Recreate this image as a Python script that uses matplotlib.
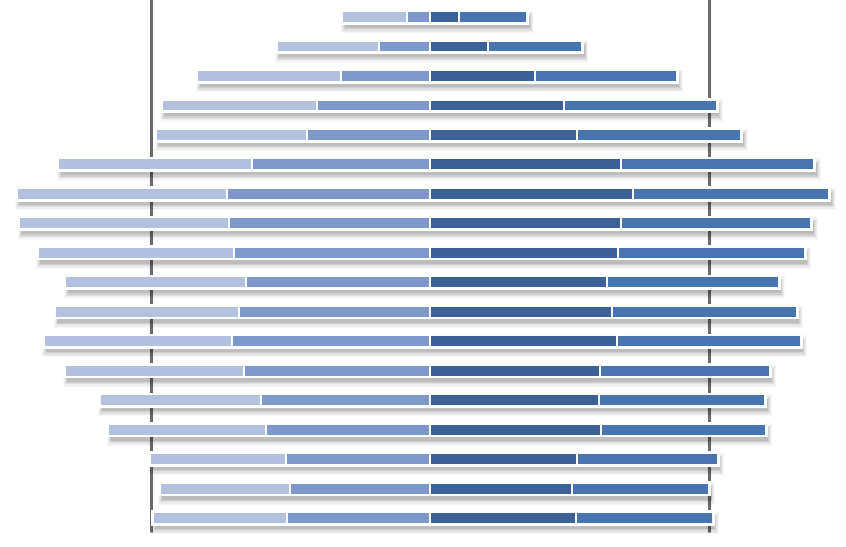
import numpy as np
import matplotlib
matplotlib.use("Agg")
import matplotlib.pyplot as plt

# Four stacked series per row: two to the left of zero, two to the right
left_inner = [0.82, 1.83, 3.19, 4.05, 4.41, 6.38, 7.28, 7.20, 7.03,
              6.59, 6.85, 7.10, 6.67, 6.06, 5.88, 5.16, 5.02, 5.13]
left_outer = [2.33, 3.66, 5.16, 5.56, 5.41, 6.95, 7.53, 7.53, 7.03,
              6.49, 6.59, 6.74, 6.42, 5.77, 5.66, 4.87, 4.66, 4.80]
right_inner = [1.04, 2.08, 3.76, 4.80, 5.27, 6.85, 7.28, 6.85, 6.74,
               6.34, 6.52, 6.70, 6.09, 6.06, 6.13, 5.27, 5.09, 5.23]
right_outer = [2.44, 3.37, 5.09, 5.48, 5.88, 6.92, 7.03, 6.81, 6.70,
               6.16, 6.63, 6.59, 6.09, 5.95, 5.91, 5.05, 4.91, 4.91]
grid_x = [-10, 10]

colors = {
    "left_outer": "#b3c1de",
    "left_inner": "#7d98c9",
    "right_inner": "#3c6196",
    "right_outer": "#4875b2",
}

li = np.array(left_inner)
lo = np.array(left_outer)
ri = np.array(right_inner)
ro = np.array(right_outer)
y = np.arange(len(li))
h = 0.4

fig = plt.figure(figsize=(8.46, 5.47), dpi=100)
ax = fig.add_axes([0, 0, 1, 1])
ax.set_xlim(-15.41, 14.91)
ax.set_ylim(17.98, -0.577)
ax.axis("off")

# reference lines behind the bars
ax.vlines(grid_x, -0.6, 17.48, color="#6a6a6a", lw=2.2, zorder=1)

# soft drop shadow under each full bar
left_edge = -(li + lo)
total = li + lo + ri + ro
for k, a in enumerate([0.09, 0.07, 0.05, 0.04, 0.03]):
    grow_x = 0.035 * k
    grow_y = 0.045 * k
    ax.barh(y + 0.17, total + 2 * grow_x, left=left_edge + 0.09 - grow_x,
            height=h + 2 * grow_y, color="black", alpha=a, lw=0, zorder=2)

# white backing so the outline reads as one continuous bar
ax.barh(y, total + 0.14, left=left_edge - 0.07, height=h + 0.12,
        color="white", lw=0, zorder=3)

kw = dict(height=h, edgecolor="white", linewidth=1.4, zorder=4)
ax.barh(y, lo, left=-(li + lo), color=colors["left_outer"], **kw)
ax.barh(y, li, left=-li, color=colors["left_inner"], **kw)
ax.barh(y, ri, left=0, color=colors["right_inner"], **kw)
ax.barh(y, ro, left=ri, color=colors["right_outer"], **kw)

fig.savefig("out.png", dpi=100, facecolor="white")
